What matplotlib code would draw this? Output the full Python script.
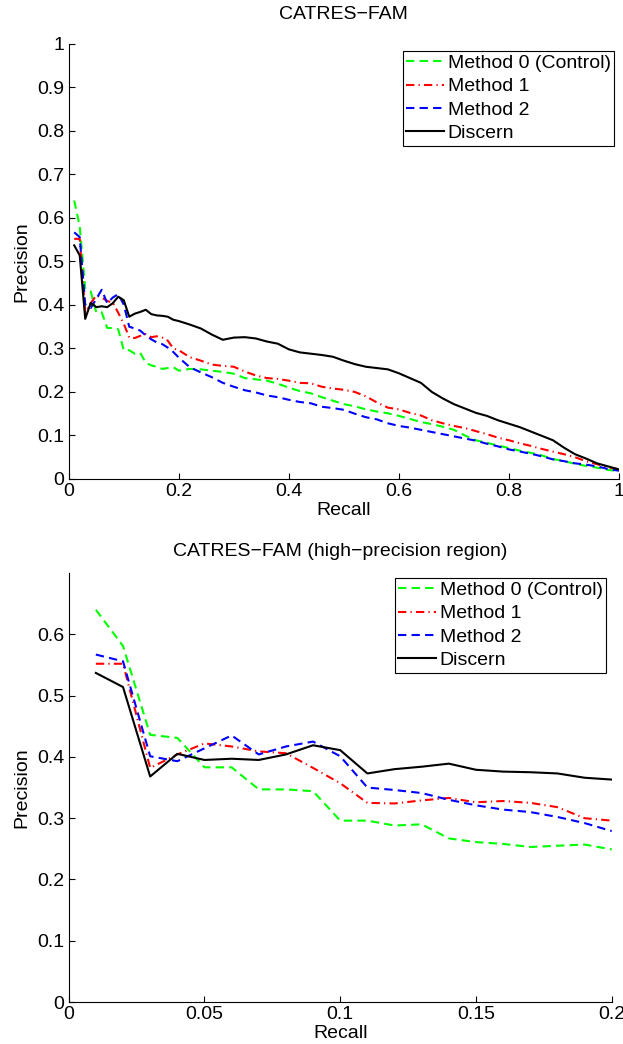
import matplotlib
matplotlib.use("Agg")
import matplotlib.pyplot as plt

plt.rcParams['font.family'] = ['Liberation Sans', 'DejaVu Sans']

# recall points: 0.01 .. 0.20 every 0.01, then every 0.02 up to 1.0
recall_lo = [0.01, 0.02, 0.03, 0.04, 0.05, 0.06, 0.07, 0.08, 0.09, 0.10,
             0.11, 0.12, 0.13, 0.14, 0.15, 0.16, 0.17, 0.18, 0.19, 0.20]
recall_hi = [0.22, 0.24, 0.26, 0.28, 0.30, 0.32, 0.34, 0.36, 0.38, 0.40,
             0.42, 0.44, 0.46, 0.48, 0.50, 0.52, 0.54, 0.56, 0.58, 0.60,
             0.62, 0.64, 0.66, 0.68, 0.70, 0.72, 0.74, 0.76, 0.78, 0.80,
             0.82, 0.84, 0.86, 0.88, 0.90, 0.92, 0.94, 0.96, 0.98, 1.00]

method0_lo = [0.640, 0.581, 0.436, 0.431, 0.383, 0.383, 0.347, 0.347, 0.344, 0.296,
              0.296, 0.288, 0.290, 0.267, 0.261, 0.258, 0.253, 0.255, 0.257, 0.249]
method0_hi = [0.253, 0.252, 0.249, 0.246, 0.242, 0.232, 0.229, 0.226, 0.219, 0.210,
              0.202, 0.197, 0.188, 0.180, 0.172, 0.167, 0.160, 0.155, 0.151, 0.145,
              0.138, 0.131, 0.126, 0.120, 0.113, 0.100, 0.089, 0.083, 0.077, 0.071,
              0.065, 0.060, 0.054, 0.046, 0.041, 0.035, 0.030, 0.026, 0.021, 0.018]

method1_lo = [0.552, 0.552, 0.382, 0.404, 0.422, 0.417, 0.409, 0.406, 0.382, 0.357,
              0.325, 0.324, 0.329, 0.333, 0.326, 0.328, 0.325, 0.318, 0.300, 0.296]
method1_hi = [0.280, 0.272, 0.263, 0.260, 0.258, 0.247, 0.238, 0.232, 0.230, 0.226,
              0.221, 0.220, 0.212, 0.208, 0.205, 0.200, 0.190, 0.176, 0.164, 0.160,
              0.152, 0.146, 0.135, 0.128, 0.122, 0.117, 0.110, 0.103, 0.095, 0.089,
              0.082, 0.076, 0.069, 0.063, 0.057, 0.050, 0.041, 0.034, 0.027, 0.022]

method2_lo = [0.567, 0.556, 0.401, 0.393, 0.414, 0.435, 0.404, 0.417, 0.425, 0.401,
              0.350, 0.346, 0.341, 0.330, 0.321, 0.314, 0.310, 0.302, 0.292, 0.279]
method2_hi = [0.257, 0.245, 0.234, 0.221, 0.212, 0.204, 0.199, 0.192, 0.188, 0.182,
              0.177, 0.174, 0.166, 0.163, 0.159, 0.150, 0.142, 0.137, 0.128, 0.122,
              0.118, 0.113, 0.108, 0.103, 0.098, 0.093, 0.088, 0.081, 0.075, 0.068,
              0.063, 0.058, 0.052, 0.045, 0.041, 0.036, 0.033, 0.029, 0.023, 0.019]

discern_lo = [0.537, 0.514, 0.368, 0.405, 0.395, 0.397, 0.395, 0.404, 0.419, 0.411,
              0.373, 0.380, 0.384, 0.389, 0.379, 0.376, 0.375, 0.373, 0.366, 0.363]
discern_hi = [0.355, 0.346, 0.332, 0.320, 0.325, 0.326, 0.323, 0.316, 0.311, 0.298,
              0.291, 0.288, 0.285, 0.281, 0.272, 0.264, 0.258, 0.255, 0.252, 0.243,
              0.232, 0.221, 0.200, 0.185, 0.172, 0.162, 0.152, 0.145, 0.135, 0.127,
              0.119, 0.109, 0.099, 0.089, 0.072, 0.057, 0.047, 0.036, 0.029, 0.022]

labels = ['Method 0 (Control)', 'Method 1', 'Method 2', 'Discern']
FS = 14
LW = 1.5


def draw(ax, r, m0, m1, m2, d):
    ax.plot(r, m0, color='#00ff00', lw=LW, dashes=(4, 2.5), label=labels[0])
    ax.plot(r, m1, color='#ff0000', lw=LW, dashes=(4, 2, 0.6, 2), label=labels[1])
    ax.plot(r, m2, color='#0000ff', lw=LW, dashes=(4, 2.5), label=labels[2])
    ax.plot(r, d, color='black', lw=LW, label=labels[3])
    for s in ['top', 'right']:
        ax.spines[s].set_visible(False)
    for s in ['left', 'bottom']:
        ax.spines[s].set_linewidth(0.8)
    ax.tick_params(direction='in', length=4, width=0.8, labelsize=FS)
    ax.tick_params(axis='x', pad=3)
    ax.tick_params(axis='y', pad=3)
    ax.set_xlabel('Recall', fontsize=FS, labelpad=1)
    ax.set_ylabel('Precision', fontsize=FS, labelpad=5)


def add_legend(ax, anchor):
    leg = ax.legend(loc='upper right', bbox_to_anchor=anchor,
                    bbox_transform=fig.transFigure, fontsize=FS, fancybox=False,
                    edgecolor='black', framealpha=1, borderpad=0.17,
                    labelspacing=0.3, handlelength=1.95, handletextpad=0.2,
                    borderaxespad=0)
    leg.get_frame().set_linewidth(0.8)


def fmt(v):
    return ('%g' % v)


fig = plt.figure(figsize=(6.23, 10.44), dpi=100)

# full range
ax1 = fig.add_axes([0.1103, 0.5412, 0.8833, 0.4167])
draw(ax1, recall_lo + recall_hi, method0_lo + method0_hi, method1_lo + method1_hi,
     method2_lo + method2_hi, discern_lo + discern_hi)
ax1.set_xlim(0, 1)
ax1.set_ylim(0, 1)
xt = [0, 0.2, 0.4, 0.6, 0.8, 1]
yt = [0, 0.1, 0.2, 0.3, 0.4, 0.5, 0.6, 0.7, 0.8, 0.9, 1]
ax1.set_xticks(xt)
ax1.set_xticklabels([fmt(v) for v in xt])
ax1.set_yticks(yt)
ax1.set_yticklabels([fmt(v) for v in yt])
ax1.set_title('CATRES\u2212FAM', fontsize=FS, pad=18)
add_legend(ax1, (0.9856, 0.9511))

# high-precision region
ax2 = fig.add_axes([0.1103, 0.0402, 0.8716, 0.4109])
draw(ax2, recall_lo, method0_lo, method1_lo, method2_lo, discern_lo)
ax2.set_xlim(0, 0.2)
ax2.set_ylim(0, 0.7)
xt2 = [0, 0.05, 0.1, 0.15, 0.2]
yt2 = [0, 0.1, 0.2, 0.3, 0.4, 0.5, 0.6]
ax2.set_xticks(xt2)
ax2.set_xticklabels([fmt(v) for v in xt2])
ax2.set_yticks(yt2)
ax2.set_yticklabels([fmt(v) for v in yt2])
ax2.set_title('CATRES\u2212FAM (high\u2212precision region)', fontsize=FS, pad=12)
add_legend(ax2, (0.9727, 0.4464))

fig.savefig('out.png', dpi=100)
